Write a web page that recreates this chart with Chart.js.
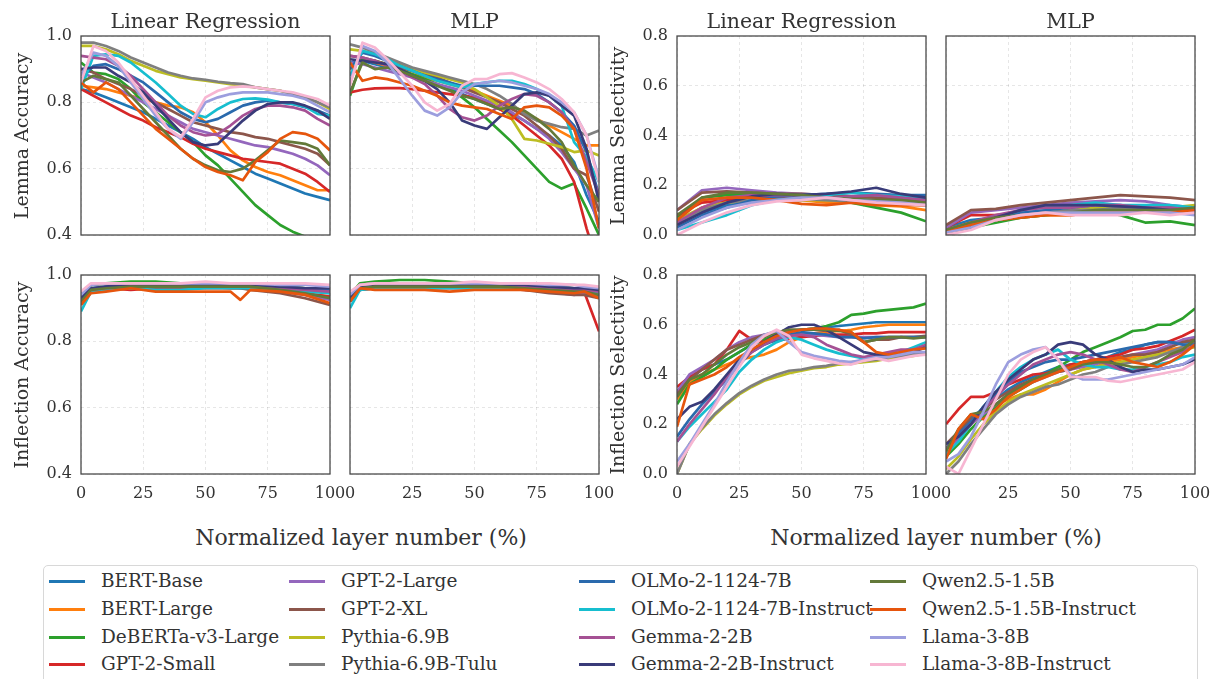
<!DOCTYPE html>
<html>
<head>
<meta charset="utf-8">
<script src="https://cdn.jsdelivr.net/npm/chart.js@4/dist/chart.umd.min.js"></script>
<style>
  html, body { margin: 0; padding: 0; background: #fff; }
  body { width: 1220px; height: 679px; overflow: hidden; position: relative;
         font-family: "DejaVu Serif", serif; color: #333; }
  canvas { position: absolute; }
  .txt { position: absolute; white-space: nowrap; transform: translate(-50%, -50%); }
  .title { font-size: 20.5px; }
  .xlab { font-size: 22px; }
  .ylab { font-size: 19px; transform: translate(-50%, -50%) rotate(-90deg); }
  #legend { position: absolute; left: 43px; top: 565px; width: 1155px; height: 140px;
            border: 1px solid #d8d8d8; border-radius: 5px; box-sizing: border-box; background: #fff; }
  .lg-line { position: absolute; height: 3px; width: 36px; }
  .lg-text { position: absolute; font-size: 18.5px; line-height: 22px; white-space: nowrap; color: #333; }
</style>
</head>
<body>
<script>
// ---- models and colours ----
const models = [
  "BERT-Base", "BERT-Large", "DeBERTa-v3-Large", "GPT-2-Small",
  "GPT-2-Large", "GPT-2-XL", "Pythia-6.9B", "Pythia-6.9B-Tulu",
  "OLMo-2-1124-7B", "OLMo-2-1124-7B-Instruct", "Gemma-2-2B", "Gemma-2-2B-Instruct",
  "Qwen2.5-1.5B", "Qwen2.5-1.5B-Instruct", "Llama-3-8B", "Llama-3-8B-Instruct"
];
const colors = [
  "#1f77b4", "#ff7f0e", "#2ca02c", "#d62728",
  "#9467bd", "#8c564b", "#bcbd22", "#7f7f7f",
  "#2a6aad", "#17becf", "#a55194", "#393b79",
  "#637939", "#e6550d", "#9c9ede", "#f7b6d2"
];

// ---- normalized layer positions (%) ----
const xFine = [0,5,10,15,20,25,30,35,40,45,50,55,60,65,70,75,80,85,90,95,100];
const xTen = [0,10,20,30,40,50,60,70,80,90,100];
const xInflLinear = [0,4,10,20,30,40,50,60,64,68,80,90,100];
const xInflMLP = [0,4,10,20,30,40,50,60,70,80,90,94,100];

// ---- tick values ----
const xTicks = [0, 25, 50, 75, 100];
const accTicks = [0.4, 0.6, 0.8, 1.0];
const selTicks = [0.0, 0.2, 0.4, 0.6, 0.8];

// ---- Lemma accuracy, linear regression probe ----
const lemmaAccLinear = [
  [0.84,0.83,0.815,0.80,0.785,0.77,0.75,0.73,0.71,0.69,0.665,0.645,0.625,0.605,0.585,0.57,0.555,0.54,0.525,0.515,0.505],
  [0.85,0.845,0.84,0.83,0.82,0.81,0.80,0.79,0.785,0.77,0.74,0.70,0.655,0.625,0.605,0.59,0.58,0.565,0.55,0.535,0.535],
  [0.92,0.89,0.885,0.87,0.84,0.80,0.77,0.74,0.71,0.68,0.64,0.61,0.57,0.53,0.49,0.46,0.43,0.41,0.395,0.37,0.35],
  [0.84,0.82,0.80,0.78,0.76,0.745,0.725,0.71,0.695,0.675,0.66,0.65,0.64,0.63,0.625,0.62,0.615,0.60,0.585,0.56,0.53],
  [0.89,0.875,0.86,0.84,0.82,0.80,0.78,0.76,0.74,0.72,0.71,0.70,0.69,0.68,0.67,0.665,0.655,0.645,0.63,0.61,0.58],
  [0.90,0.89,0.87,0.855,0.84,0.82,0.80,0.78,0.76,0.74,0.73,0.72,0.71,0.705,0.695,0.69,0.68,0.67,0.66,0.645,0.61],
  [0.97,0.97,0.96,0.945,0.925,0.91,0.895,0.885,0.875,0.87,0.865,0.86,0.855,0.85,0.845,0.84,0.835,0.825,0.815,0.80,0.78],
  [0.98,0.98,0.97,0.955,0.935,0.92,0.905,0.89,0.88,0.872,0.868,0.862,0.858,0.855,0.845,0.84,0.835,0.825,0.815,0.80,0.785],
  [0.87,0.91,0.915,0.90,0.88,0.86,0.83,0.80,0.77,0.75,0.74,0.75,0.77,0.79,0.80,0.805,0.80,0.795,0.785,0.775,0.76],
  [0.84,0.94,0.945,0.94,0.92,0.89,0.86,0.825,0.79,0.765,0.755,0.78,0.80,0.81,0.812,0.808,0.80,0.795,0.787,0.765,0.76],
  [0.94,0.935,0.93,0.91,0.88,0.84,0.80,0.76,0.73,0.71,0.70,0.705,0.73,0.76,0.78,0.79,0.79,0.785,0.775,0.75,0.73],
  [0.90,0.905,0.905,0.88,0.86,0.83,0.79,0.75,0.71,0.68,0.67,0.675,0.71,0.745,0.775,0.795,0.80,0.80,0.79,0.775,0.75],
  [0.86,0.88,0.87,0.86,0.82,0.78,0.74,0.70,0.66,0.63,0.61,0.595,0.59,0.60,0.625,0.655,0.685,0.68,0.675,0.66,0.61],
  [0.86,0.83,0.86,0.84,0.80,0.76,0.72,0.69,0.66,0.63,0.605,0.59,0.58,0.565,0.62,0.65,0.69,0.71,0.705,0.69,0.655],
  [0.88,0.95,0.94,0.91,0.86,0.81,0.76,0.72,0.69,0.74,0.80,0.815,0.825,0.83,0.83,0.83,0.825,0.82,0.81,0.79,0.77],
  [0.86,0.97,0.955,0.92,0.87,0.82,0.77,0.72,0.695,0.75,0.815,0.835,0.845,0.848,0.845,0.84,0.835,0.83,0.82,0.81,0.79]
];

// ---- Lemma accuracy, MLP probe ----
const lemmaAccMLP = [
  [0.92,0.925,0.915,0.905,0.89,0.88,0.865,0.85,0.84,0.825,0.81,0.795,0.78,0.765,0.745,0.72,0.70,0.67,0.62,0.52,0.44],
  [0.90,0.93,0.92,0.91,0.90,0.885,0.875,0.865,0.855,0.845,0.835,0.82,0.805,0.79,0.77,0.75,0.73,0.71,0.69,0.67,0.67],
  [0.82,0.93,0.925,0.915,0.90,0.885,0.87,0.855,0.84,0.815,0.785,0.75,0.715,0.68,0.64,0.60,0.56,0.54,0.555,0.48,0.40],
  [0.83,0.838,0.842,0.843,0.843,0.84,0.835,0.83,0.825,0.82,0.815,0.80,0.78,0.76,0.73,0.70,0.67,0.63,0.56,0.42,0.30],
  [0.92,0.915,0.905,0.895,0.885,0.875,0.865,0.855,0.845,0.835,0.82,0.805,0.79,0.77,0.745,0.72,0.69,0.65,0.60,0.55,0.42],
  [0.94,0.935,0.925,0.915,0.905,0.895,0.885,0.875,0.86,0.845,0.83,0.815,0.80,0.78,0.76,0.73,0.70,0.66,0.60,0.58,0.47],
  [0.96,0.955,0.945,0.93,0.915,0.90,0.89,0.88,0.87,0.86,0.84,0.815,0.79,0.75,0.69,0.685,0.675,0.665,0.65,0.655,0.64],
  [0.975,0.965,0.95,0.935,0.92,0.905,0.895,0.885,0.875,0.865,0.855,0.84,0.82,0.795,0.765,0.745,0.735,0.725,0.72,0.70,0.715],
  [0.90,0.95,0.94,0.925,0.91,0.895,0.88,0.87,0.86,0.85,0.85,0.85,0.85,0.845,0.84,0.825,0.80,0.77,0.73,0.65,0.52],
  [0.88,0.955,0.945,0.93,0.91,0.895,0.88,0.865,0.855,0.845,0.855,0.86,0.865,0.865,0.855,0.84,0.82,0.79,0.68,0.635,0.56],
  [0.94,0.935,0.925,0.91,0.895,0.875,0.855,0.82,0.78,0.755,0.745,0.76,0.79,0.81,0.825,0.82,0.80,0.77,0.72,0.62,0.52],
  [0.93,0.925,0.92,0.915,0.90,0.88,0.865,0.84,0.80,0.745,0.73,0.72,0.755,0.79,0.825,0.83,0.82,0.79,0.76,0.66,0.50],
  [0.83,0.92,0.90,0.905,0.895,0.88,0.865,0.85,0.835,0.82,0.81,0.795,0.78,0.785,0.775,0.75,0.72,0.68,0.61,0.55,0.50],
  [0.92,0.865,0.875,0.87,0.86,0.85,0.835,0.82,0.80,0.79,0.785,0.78,0.765,0.75,0.785,0.79,0.785,0.76,0.72,0.60,0.42],
  [0.86,0.97,0.955,0.92,0.87,0.82,0.775,0.76,0.785,0.83,0.855,0.86,0.865,0.86,0.85,0.84,0.825,0.80,0.77,0.70,0.57],
  [0.85,0.98,0.965,0.93,0.89,0.85,0.80,0.775,0.795,0.85,0.87,0.87,0.885,0.888,0.875,0.86,0.84,0.81,0.77,0.70,0.56]
];

// ---- Lemma selectivity, linear regression probe ----
const lemmaSelLinear = [
  [0.05,0.09,0.12,0.13,0.14,0.14,0.14,0.135,0.135,0.13,0.13],
  [0.05,0.11,0.14,0.15,0.15,0.14,0.13,0.13,0.12,0.115,0.10],
  [0.07,0.15,0.16,0.165,0.165,0.16,0.16,0.13,0.11,0.09,0.055],
  [0.08,0.13,0.14,0.15,0.15,0.15,0.15,0.14,0.14,0.135,0.13],
  [0.10,0.18,0.19,0.18,0.17,0.165,0.16,0.155,0.15,0.14,0.13],
  [0.10,0.17,0.175,0.17,0.165,0.165,0.16,0.155,0.15,0.145,0.14],
  [0.06,0.11,0.13,0.14,0.14,0.14,0.14,0.135,0.13,0.13,0.12],
  [0.05,0.10,0.13,0.14,0.145,0.145,0.14,0.135,0.13,0.125,0.12],
  [0.03,0.08,0.11,0.14,0.155,0.16,0.165,0.17,0.165,0.16,0.16],
  [0.02,0.05,0.08,0.12,0.14,0.15,0.16,0.17,0.16,0.155,0.15],
  [0.05,0.11,0.15,0.16,0.16,0.16,0.15,0.155,0.16,0.15,0.14],
  [0.04,0.09,0.13,0.155,0.165,0.16,0.165,0.175,0.19,0.165,0.15],
  [0.08,0.15,0.17,0.17,0.165,0.16,0.15,0.145,0.14,0.14,0.13],
  [0.06,0.14,0.15,0.15,0.14,0.125,0.12,0.13,0.12,0.12,0.12],
  [0.02,0.07,0.11,0.13,0.14,0.15,0.15,0.14,0.135,0.13,0.12],
  [0.00,0.05,0.09,0.12,0.135,0.14,0.15,0.14,0.13,0.125,0.12]
];

// ---- Lemma selectivity, MLP probe ----
const lemmaSelMLP = [
  [0.03,0.06,0.07,0.08,0.09,0.09,0.10,0.10,0.10,0.10,0.10],
  [0.02,0.05,0.06,0.07,0.08,0.08,0.09,0.09,0.09,0.09,0.10],
  [0.00,0.03,0.05,0.07,0.08,0.09,0.10,0.08,0.05,0.055,0.04],
  [0.03,0.08,0.08,0.09,0.09,0.09,0.10,0.10,0.10,0.10,0.10],
  [0.03,0.09,0.10,0.11,0.12,0.13,0.135,0.14,0.135,0.12,0.11],
  [0.04,0.10,0.105,0.12,0.13,0.14,0.15,0.16,0.155,0.15,0.14],
  [0.01,0.04,0.06,0.08,0.09,0.10,0.11,0.11,0.11,0.11,0.12],
  [0.01,0.04,0.06,0.08,0.09,0.10,0.10,0.11,0.11,0.11,0.11],
  [0.02,0.04,0.07,0.09,0.10,0.11,0.12,0.12,0.11,0.11,0.10],
  [0.02,0.04,0.07,0.10,0.11,0.12,0.13,0.12,0.12,0.12,0.11],
  [0.02,0.05,0.08,0.10,0.11,0.11,0.12,0.12,0.11,0.11,0.10],
  [0.01,0.03,0.07,0.10,0.12,0.12,0.12,0.115,0.11,0.10,0.10],
  [0.02,0.05,0.07,0.08,0.09,0.09,0.10,0.10,0.10,0.10,0.11],
  [0.01,0.04,0.06,0.07,0.08,0.08,0.09,0.09,0.09,0.09,0.10],
  [0.01,0.03,0.06,0.08,0.09,0.09,0.09,0.09,0.09,0.09,0.08],
  [0.00,0.02,0.06,0.08,0.09,0.08,0.08,0.08,0.09,0.08,0.09]
];

// ---- Inflection accuracy, linear regression probe ----
const inflAccLinear = [
  [0.93,0.955,0.96,0.965,0.965,0.965,0.965,0.965,0.965,0.965,0.96,0.955,0.945],
  [0.93,0.955,0.96,0.965,0.965,0.965,0.965,0.965,0.965,0.96,0.955,0.945,0.935],
  [0.93,0.97,0.975,0.98,0.98,0.975,0.97,0.97,0.97,0.97,0.965,0.96,0.95],
  [0.93,0.955,0.96,0.955,0.96,0.96,0.96,0.96,0.96,0.96,0.955,0.945,0.935],
  [0.91,0.95,0.955,0.965,0.965,0.965,0.965,0.965,0.96,0.96,0.95,0.94,0.925],
  [0.92,0.95,0.96,0.965,0.965,0.965,0.965,0.96,0.96,0.955,0.945,0.93,0.91],
  [0.94,0.97,0.975,0.975,0.975,0.97,0.97,0.97,0.97,0.97,0.965,0.96,0.955],
  [0.945,0.97,0.975,0.975,0.975,0.97,0.97,0.97,0.97,0.97,0.965,0.96,0.955],
  [0.93,0.96,0.965,0.97,0.97,0.97,0.97,0.97,0.97,0.97,0.965,0.96,0.955],
  [0.89,0.95,0.955,0.96,0.955,0.955,0.96,0.96,0.96,0.96,0.955,0.95,0.945],
  [0.92,0.955,0.96,0.965,0.965,0.965,0.965,0.965,0.965,0.965,0.96,0.955,0.95],
  [0.93,0.96,0.965,0.97,0.97,0.97,0.97,0.97,0.97,0.97,0.965,0.96,0.96],
  [0.92,0.955,0.96,0.965,0.965,0.965,0.965,0.965,0.965,0.965,0.955,0.945,0.93],
  [0.91,0.945,0.95,0.96,0.95,0.95,0.95,0.95,0.925,0.955,0.95,0.94,0.915],
  [0.94,0.97,0.975,0.975,0.975,0.975,0.975,0.975,0.975,0.975,0.97,0.97,0.965],
  [0.95,0.975,0.975,0.975,0.975,0.975,0.98,0.975,0.975,0.975,0.975,0.975,0.97]
];

// ---- Inflection accuracy, MLP probe ----
const inflAccMLP = [
  [0.93,0.96,0.965,0.965,0.965,0.965,0.965,0.965,0.96,0.955,0.95,0.95,0.945],
  [0.93,0.96,0.965,0.965,0.965,0.97,0.97,0.965,0.96,0.955,0.95,0.95,0.94],
  [0.94,0.975,0.98,0.985,0.985,0.98,0.975,0.975,0.97,0.965,0.96,0.96,0.955],
  [0.93,0.96,0.96,0.96,0.96,0.96,0.96,0.96,0.955,0.95,0.95,0.95,0.83],
  [0.92,0.955,0.96,0.965,0.965,0.965,0.965,0.965,0.96,0.95,0.94,0.945,0.935],
  [0.93,0.955,0.96,0.965,0.965,0.965,0.965,0.96,0.955,0.945,0.94,0.94,0.93],
  [0.94,0.97,0.975,0.975,0.975,0.975,0.975,0.975,0.97,0.965,0.96,0.96,0.955],
  [0.94,0.97,0.975,0.975,0.975,0.975,0.975,0.975,0.97,0.965,0.96,0.96,0.955],
  [0.93,0.965,0.97,0.97,0.97,0.97,0.97,0.97,0.97,0.965,0.96,0.96,0.955],
  [0.90,0.955,0.96,0.96,0.96,0.96,0.96,0.96,0.96,0.955,0.955,0.95,0.945],
  [0.92,0.96,0.965,0.965,0.965,0.965,0.965,0.965,0.965,0.96,0.955,0.955,0.95],
  [0.93,0.965,0.97,0.97,0.97,0.97,0.97,0.97,0.97,0.965,0.96,0.96,0.955],
  [0.92,0.96,0.965,0.965,0.965,0.965,0.965,0.965,0.96,0.955,0.95,0.95,0.94],
  [0.92,0.96,0.955,0.955,0.955,0.95,0.955,0.955,0.955,0.95,0.945,0.95,0.93],
  [0.94,0.97,0.975,0.975,0.975,0.975,0.975,0.975,0.975,0.97,0.97,0.965,0.96],
  [0.95,0.97,0.975,0.975,0.975,0.975,0.98,0.975,0.975,0.975,0.97,0.97,0.965]
];

// ---- Inflection selectivity, linear regression probe ----
const inflSelLinear = [
  [0.33,0.38,0.42,0.44,0.46,0.49,0.52,0.54,0.555,0.57,0.58,0.585,0.59,0.595,0.60,0.605,0.61,0.61,0.61,0.61,0.61],
  [0.30,0.37,0.40,0.42,0.44,0.46,0.47,0.48,0.50,0.53,0.55,0.565,0.57,0.575,0.58,0.59,0.595,0.60,0.60,0.60,0.60],
  [0.28,0.36,0.39,0.42,0.46,0.49,0.52,0.54,0.56,0.575,0.58,0.585,0.595,0.61,0.64,0.645,0.655,0.66,0.665,0.67,0.685],
  [0.35,0.39,0.42,0.44,0.50,0.575,0.54,0.53,0.535,0.545,0.55,0.555,0.56,0.56,0.56,0.565,0.565,0.57,0.57,0.57,0.57],
  [0.33,0.40,0.43,0.46,0.50,0.53,0.55,0.56,0.57,0.57,0.56,0.56,0.555,0.55,0.55,0.55,0.55,0.55,0.55,0.55,0.55],
  [0.32,0.38,0.42,0.46,0.50,0.52,0.54,0.56,0.57,0.58,0.58,0.58,0.575,0.58,0.56,0.53,0.54,0.54,0.55,0.55,0.555],
  [0.00,0.12,0.18,0.235,0.28,0.32,0.35,0.375,0.39,0.405,0.415,0.425,0.43,0.44,0.445,0.45,0.455,0.465,0.47,0.475,0.485],
  [0.00,0.12,0.185,0.24,0.285,0.325,0.355,0.38,0.40,0.415,0.42,0.43,0.435,0.445,0.45,0.455,0.46,0.47,0.475,0.48,0.49],
  [0.15,0.22,0.28,0.33,0.38,0.44,0.49,0.52,0.54,0.56,0.57,0.565,0.56,0.55,0.55,0.545,0.55,0.55,0.55,0.55,0.55],
  [0.13,0.19,0.24,0.29,0.34,0.41,0.46,0.50,0.53,0.55,0.54,0.52,0.50,0.485,0.475,0.465,0.47,0.48,0.49,0.51,0.53],
  [0.13,0.20,0.26,0.32,0.39,0.45,0.49,0.52,0.545,0.555,0.56,0.55,0.52,0.50,0.48,0.47,0.48,0.49,0.50,0.50,0.52],
  [0.22,0.27,0.29,0.34,0.40,0.46,0.50,0.53,0.56,0.59,0.60,0.60,0.58,0.55,0.52,0.49,0.48,0.48,0.485,0.49,0.51],
  [0.31,0.38,0.40,0.44,0.48,0.51,0.53,0.55,0.57,0.58,0.58,0.58,0.58,0.575,0.57,0.53,0.54,0.55,0.55,0.545,0.55],
  [0.19,0.36,0.38,0.40,0.43,0.47,0.50,0.53,0.555,0.57,0.58,0.585,0.585,0.58,0.57,0.53,0.49,0.48,0.49,0.50,0.505],
  [0.05,0.12,0.20,0.28,0.37,0.45,0.52,0.56,0.575,0.53,0.49,0.475,0.465,0.455,0.45,0.46,0.47,0.47,0.48,0.49,0.49],
  [0.03,0.11,0.19,0.27,0.35,0.43,0.51,0.555,0.58,0.555,0.48,0.465,0.455,0.445,0.44,0.455,0.465,0.455,0.465,0.475,0.48]
];

// ---- Inflection selectivity, MLP probe ----
const inflSelMLP = [
  [0.10,0.17,0.23,0.26,0.30,0.34,0.37,0.39,0.41,0.43,0.44,0.45,0.46,0.47,0.49,0.50,0.52,0.53,0.53,0.53,0.53],
  [0.10,0.15,0.20,0.24,0.28,0.30,0.32,0.32,0.34,0.37,0.40,0.42,0.43,0.45,0.46,0.47,0.48,0.49,0.50,0.51,0.52],
  [0.07,0.12,0.18,0.23,0.27,0.31,0.34,0.37,0.40,0.43,0.46,0.49,0.51,0.53,0.55,0.575,0.58,0.60,0.60,0.625,0.665],
  [0.20,0.26,0.31,0.31,0.33,0.36,0.38,0.40,0.405,0.415,0.44,0.45,0.46,0.47,0.48,0.50,0.505,0.515,0.535,0.555,0.58],
  [0.10,0.14,0.20,0.24,0.28,0.32,0.35,0.37,0.39,0.41,0.42,0.43,0.44,0.46,0.47,0.48,0.49,0.50,0.52,0.54,0.55],
  [0.12,0.17,0.22,0.26,0.30,0.33,0.36,0.38,0.40,0.41,0.42,0.44,0.45,0.46,0.47,0.48,0.48,0.49,0.51,0.53,0.54],
  [0.02,0.07,0.14,0.20,0.25,0.29,0.32,0.34,0.36,0.38,0.40,0.42,0.43,0.44,0.45,0.46,0.47,0.48,0.49,0.50,0.51],
  [0.00,0.05,0.12,0.18,0.24,0.28,0.31,0.33,0.35,0.36,0.38,0.40,0.41,0.43,0.44,0.45,0.46,0.47,0.49,0.51,0.53],
  [0.10,0.16,0.21,0.27,0.32,0.37,0.41,0.43,0.45,0.46,0.46,0.47,0.48,0.49,0.50,0.51,0.52,0.53,0.53,0.52,0.52],
  [0.08,0.13,0.20,0.27,0.33,0.39,0.43,0.46,0.48,0.50,0.46,0.44,0.43,0.43,0.42,0.42,0.43,0.44,0.45,0.47,0.48],
  [0.10,0.15,0.20,0.26,0.31,0.36,0.40,0.44,0.46,0.48,0.49,0.48,0.46,0.44,0.42,0.41,0.43,0.45,0.47,0.49,0.52],
  [0.12,0.15,0.20,0.27,0.33,0.38,0.42,0.46,0.48,0.52,0.53,0.52,0.48,0.46,0.43,0.41,0.42,0.42,0.43,0.44,0.46],
  [0.09,0.18,0.24,0.25,0.28,0.32,0.35,0.38,0.40,0.42,0.43,0.44,0.45,0.45,0.44,0.43,0.43,0.45,0.48,0.50,0.54],
  [0.06,0.18,0.24,0.22,0.26,0.31,0.34,0.37,0.39,0.41,0.43,0.45,0.46,0.46,0.47,0.45,0.44,0.43,0.45,0.48,0.52],
  [0.05,0.08,0.15,0.25,0.36,0.45,0.48,0.50,0.51,0.46,0.40,0.38,0.38,0.38,0.39,0.40,0.41,0.42,0.43,0.44,0.47],
  [0.03,0.00,0.10,0.20,0.30,0.40,0.46,0.49,0.51,0.46,0.39,0.39,0.39,0.375,0.37,0.38,0.39,0.40,0.41,0.42,0.45]
];

// ---- page layout (pixels) ----
const colLeft = [81, 350, 677, 946];
const rowTop = [36, 275];
const plotW = 249, plotH = 199;
const pad = { l: 60, t: 26, r: 28, b: 40 };
const tickFont = { family: "DejaVu Serif", size: 16 };

Chart.defaults.font.family = "DejaVu Serif";
Chart.defaults.color = "#333";

// axes frame drawn over the lines
const framePlugin = {
  id: "frame",
  afterDatasetsDraw(chart) {
    const a = chart.chartArea, ctx = chart.ctx;
    ctx.save();
    ctx.strokeStyle = "#4a4a4a";
    ctx.lineWidth = 1.3;
    ctx.strokeRect(a.left, a.top, a.right - a.left, a.bottom - a.top);
    ctx.restore();
  }
};

function addPanel(col, row, xs, rows, yTicks, showY, showX) {
  const cv = document.createElement("canvas");
  const W = plotW + pad.l + pad.r, H = plotH + pad.t + pad.b;
  cv.width = W; cv.height = H;
  cv.style.width = W + "px"; cv.style.height = H + "px";
  document.body.appendChild(cv);

  const n = rows.length;
  const datasets = rows.map((vals, i) => ({
    label: models[i],
    data: xs.map((x, j) => ({ x: x, y: vals[j] })),
    borderColor: colors[i],
    backgroundColor: colors[i],
    borderWidth: 2.7,
    pointRadius: 0,
    tension: 0,
    fill: false,
    borderJoinStyle: "round",
    borderCapStyle: "butt",
    clip: 0,
    order: n - i
  }));

  const chart = new Chart(cv, {
    type: "line",
    data: { datasets },
    options: {
      responsive: false,
      maintainAspectRatio: false,
      animation: false,
      devicePixelRatio: 1,
      events: [],
      layout: { padding: { top: pad.t, right: pad.r, left: 0, bottom: 0 } },
      plugins: { legend: { display: false }, tooltip: { enabled: false } },
      scales: {
        x: {
          type: "linear",
          min: xTicks[0], max: xTicks[xTicks.length - 1],
          afterBuildTicks: s => { s.ticks = xTicks.map(v => ({ value: v })); },
          afterFit: s => { s.height = pad.b; },
          ticks: { display: showX, font: tickFont, color: "#333", padding: 10,
                   maxRotation: 0, autoSkip: false, callback: v => String(v) },
          grid: { color: "rgba(0,0,0,0.11)", lineWidth: 0.9, drawTicks: false },
          border: { display: false, dash: [3, 3] }
        },
        y: {
          type: "linear",
          min: yTicks[0], max: yTicks[yTicks.length - 1],
          afterBuildTicks: s => { s.ticks = yTicks.map(v => ({ value: v })); },
          afterFit: s => { s.width = pad.l; },
          ticks: { display: showY, font: tickFont, color: "#333", padding: 9,
                   callback: v => Number(v).toFixed(1) },
          grid: { color: "rgba(0,0,0,0.11)", lineWidth: 0.9, drawTicks: false },
          border: { display: false, dash: [3, 3] }
        }
      }
    },
    plugins: [framePlugin]
  });

  // make the plotting area exactly plotW x plotH, then place it
  for (let k = 0; k < 3; k++) {
    const a = chart.chartArea;
    const dw = Math.round(plotW - (a.right - a.left));
    const dh = Math.round(plotH - (a.bottom - a.top));
    if (dw === 0 && dh === 0) break;
    chart.resize(chart.width + dw, chart.height + dh);
  }
  const b = chart.chartArea;
  cv.style.left = (colLeft[col] - b.left) + "px";
  cv.style.top = (rowTop[row] - b.top) + "px";
}

addPanel(0, 0, xFine, lemmaAccLinear, accTicks, true, false);
addPanel(1, 0, xFine, lemmaAccMLP, accTicks, false, false);
addPanel(2, 0, xTen, lemmaSelLinear, selTicks, true, false);
addPanel(3, 0, xTen, lemmaSelMLP, selTicks, false, false);
addPanel(0, 1, xInflLinear, inflAccLinear, accTicks, true, true);
addPanel(1, 1, xInflMLP, inflAccMLP, accTicks, false, true);
addPanel(2, 1, xFine, inflSelLinear, selTicks, true, true);
addPanel(3, 1, xFine, inflSelMLP, selTicks, false, true);

// ---- titles and axis labels ----
function addText(cls, text, x, y) {
  const d = document.createElement("div");
  d.className = "txt " + cls;
  d.textContent = text;
  d.style.left = x + "px"; d.style.top = y + "px";
  document.body.appendChild(d);
}
const probeNames = ["Linear Regression", "MLP", "Linear Regression", "MLP"];
probeNames.forEach((t, i) => addText("title", t, colLeft[i] + plotW / 2, 21));
addText("ylab", "Lemma Accuracy", 21, rowTop[0] + plotH / 2);
addText("ylab", "Inflection Accuracy", 21, rowTop[1] + plotH / 2);
addText("ylab", "Lemma Selectivity", 617, rowTop[0] + plotH / 2);
addText("ylab", "Inflection Selectivity", 617, rowTop[1] + plotH / 2);
addText("xlab", "Normalized layer number (%)", 361, 537);
addText("xlab", "Normalized layer number (%)", 936, 537);

// ---- legend ----
const legend = document.createElement("div");
legend.id = "legend";
document.body.appendChild(legend);
const legendColX = [5, 245, 535, 826];
const legendRowY = [15, 43, 71, 98];
models.forEach((m, i) => {
  const c = Math.floor(i / 4), r = i % 4;
  const ln = document.createElement("div");
  ln.className = "lg-line";
  ln.style.background = colors[i];
  ln.style.left = legendColX[c] + "px";
  ln.style.top = (legendRowY[r] - 1.5) + "px";
  legend.appendChild(ln);
  const tx = document.createElement("div");
  tx.className = "lg-text";
  tx.textContent = m;
  tx.style.left = (legendColX[c] + 52) + "px";
  tx.style.top = (legendRowY[r] - 11) + "px";
  legend.appendChild(tx);
});
</script>
</body>
</html>
